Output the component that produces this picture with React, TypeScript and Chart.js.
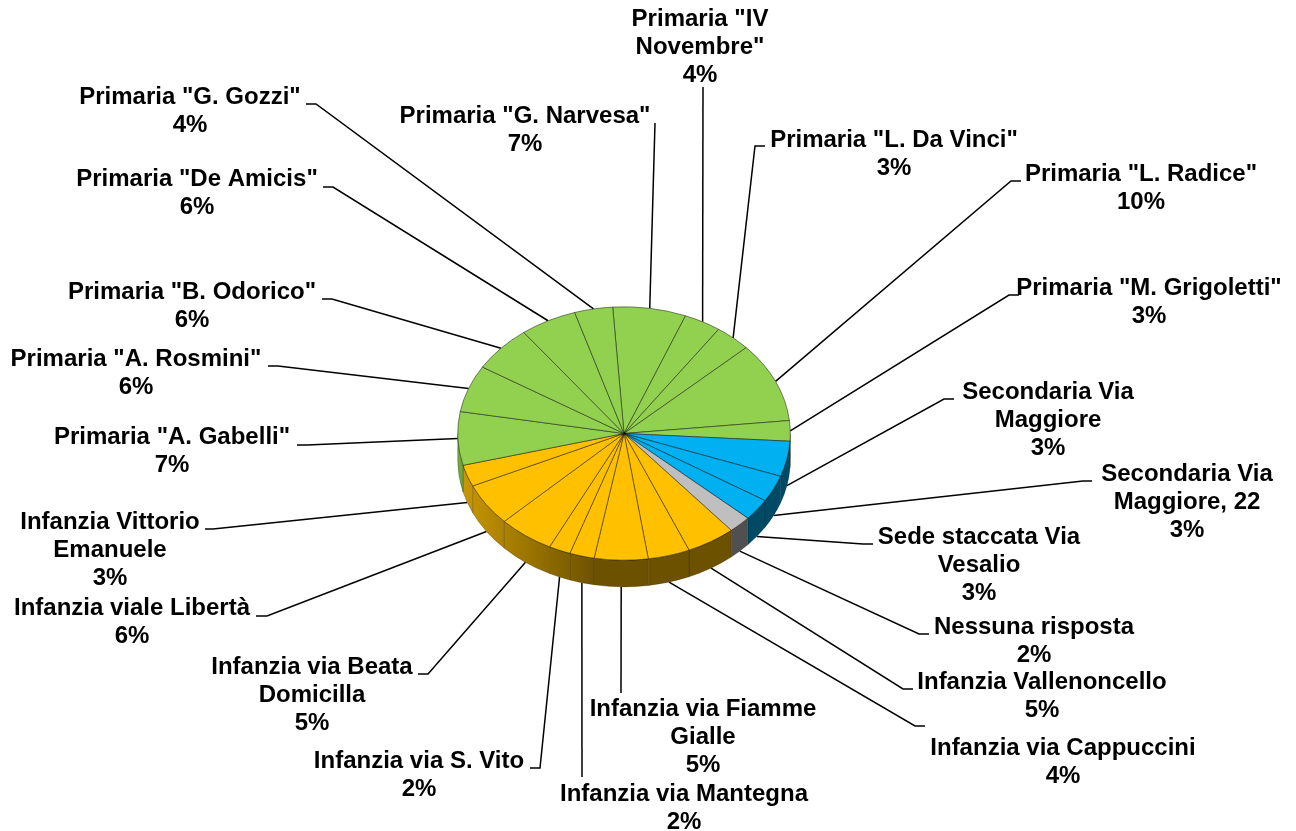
import React, { useEffect, useRef } from "react";
import { Chart, registerables } from "chart.js";

Chart.register(...registerables);

const categories = [
  'Primaria "G. Narvesa"', 'Primaria "IV Novembre"', 'Primaria "L. Da Vinci"', 'Primaria "L. Radice"',
  'Primaria "M. Grigoletti"', 'Secondaria Via Maggiore', 'Secondaria Via Maggiore, 22', 'Sede staccata Via Vesalio',
  'Nessuna risposta', 'Infanzia Vallenoncello', 'Infanzia via Cappuccini', 'Infanzia via Fiamme Gialle',
  'Infanzia via Mantegna', 'Infanzia via S. Vito', 'Infanzia via Beata Domicilla', 'Infanzia viale Libertà',
  'Infanzia Vittorio Emanuele', 'Primaria "A. Gabelli"', 'Primaria "A. Rosmini"', 'Primaria "B. Odorico"',
  'Primaria "De Amicis"', 'Primaria "G. Gozzi"',
];
const sliceShares = [7.1, 3.6, 3.5, 10.2, 2.6, 4.5, 3.4, 2.75, 2.2, 4.75, 4.05, 5.2, 2.4, 2.1, 5.4, 5.4, 2.75, 6.8, 6.0, 5.9, 5.5, 3.7];
const percentLabels = ["7%", "4%", "3%", "10%", "3%", "3%", "3%", "3%", "2%", "5%", "4%", "5%", "2%", "2%", "5%", "6%", "3%", "7%", "6%", "6%", "6%", "4%"];
const nameLines = [
  ['Primaria "G. Narvesa"'], ['Primaria "IV', 'Novembre"'], ['Primaria "L. Da Vinci"'], ['Primaria "L. Radice"'],
  ['Primaria "M. Grigoletti"'], ['Secondaria Via', 'Maggiore'], ['Secondaria Via', 'Maggiore, 22'], ['Sede staccata Via', 'Vesalio'],
  ['Nessuna risposta'], ['Infanzia Vallenoncello'], ['Infanzia via Cappuccini'], ['Infanzia via Fiamme', 'Gialle'],
  ['Infanzia via Mantegna'], ['Infanzia via S. Vito'], ['Infanzia via Beata', 'Domicilla'], ['Infanzia viale Libertà'],
  ['Infanzia Vittorio', 'Emanuele'], ['Primaria "A. Gabelli"'], ['Primaria "A. Rosmini"'], ['Primaria "B. Odorico"'],
  ['Primaria "De Amicis"'], ['Primaria "G. Gozzi"'],
];
const GREEN = "#92D050", BLUE = "#00B0F0", GREY = "#BFBFBF", ORANGE = "#FFC000";
const sliceColors = [
  GREEN, GREEN, GREEN, GREEN, GREEN, BLUE, BLUE, BLUE, GREY, ORANGE, ORANGE, ORANGE,
  ORANGE, ORANGE, ORANGE, ORANGE, ORANGE, GREEN, GREEN, GREEN, GREEN, GREEN,
];

// Layout of the annotations: label centre x / first baseline, leader knee, leader end
const labelAnchors = [
  [525, 123], [700, 26], [894, 147], [1141, 181], [1149, 295], [1048, 399], [1187, 481], [979, 544],
  [1034, 634], [1042, 689], [1063, 755], [703, 716], [684, 801], [419, 768], [312, 674], [132, 615],
  [110, 529], [172, 444], [136, 366], [192, 299], [197, 186], [190, 104],
];
const leaderKnees = [
  [655, 123], [703, 87], [755, 146], [1011, 181], [1009, 295], [944, 399], [1083, 481], [863, 544],
  [919, 634], [903, 689], [915, 726], [621, 693], [582, 777], [540, 768], [428, 674], [267, 616],
  [213, 529], [307, 445], [278, 366], [332, 299], [333, 187], [316, 104],
];
const leaderEnds = [
  null, null, [765, 146], [1021, 181], [1019, 295], [954, 399], [1092, 481], [873, 544],
  [929, 634], [913, 689], [925, 726], null, null, [530, 768], [418, 674], [256, 616],
  [205, 529], [297, 445], [268, 366], [322, 299], [323, 187], [306, 104],
];

const Y_SCALE = 0.762;
const DEPTH = 26.7;
const LINE_HEIGHT = 28;
const FONT = 'bold 24px "Liberation Sans", Arial, sans-serif';

const pie3d = {
  id: "pie3d",
  beforeDatasetsDraw(chart: any) {
    const { ctx } = chart;
    const arcs = chart.getDatasetMeta(0).data;
    const cx = arcs[0].x, cy = arcs[0].y, rx = arcs[0].outerRadius, ry = rx * Y_SCALE;

    // leader lines, anchored at the middle of each slice's rim
    ctx.save();
    ctx.strokeStyle = "#000";
    ctx.lineWidth = 1.5;
    arcs.forEach((a: any, i: number) => {
      const mid = (a.startAngle + a.endAngle) / 2;
      const sx = cx + rx * Math.cos(mid);
      const sinM = Math.sin(mid);
      const sy = cy + ry * sinM + (sinM > 0.1 ? DEPTH : 0);
      ctx.beginPath();
      ctx.moveTo(sx, sy);
      ctx.lineTo(leaderKnees[i][0], leaderKnees[i][1]);
      const e = leaderEnds[i];
      if (e) ctx.lineTo(e[0], e[1]);
      ctx.stroke();
    });
    ctx.restore();

    // side wall
    const shade = ctx.createLinearGradient(cx - rx, 0, cx + rx, 0);
    shade.addColorStop(0, "rgba(0,0,0,0.2)");
    shade.addColorStop(0.42, "rgba(0,0,0,0.58)");
    shade.addColorStop(1, "rgba(0,0,0,0.58)");
    arcs.forEach((a: any, i: number) => {
      const s = Math.max(a.startAngle, 0), e = Math.min(a.endAngle, Math.PI);
      if (e <= s) return;
      const wall = () => {
        ctx.beginPath();
        ctx.ellipse(cx, cy, rx, ry, 0, s, e);
        ctx.ellipse(cx, cy + DEPTH, rx, ry, 0, e, s, true);
        ctx.closePath();
      };
      ctx.save();
      wall();
      ctx.fillStyle = sliceColors[i];
      ctx.fill();
      ctx.fillStyle = shade;
      ctx.fill();
      ctx.strokeStyle = "rgba(0,0,0,0.3)";
      ctx.lineWidth = 0.7;
      ctx.stroke();
      ctx.restore();
    });
  },
  beforeDatasetDraw(chart: any) {
    const { ctx } = chart;
    const a = chart.getDatasetMeta(0).data[0];
    ctx.save();
    ctx.translate(a.x, a.y);
    ctx.scale(1, Y_SCALE);
    ctx.translate(-a.x, -a.y);
  },
  afterDatasetDraw(chart: any) {
    chart.ctx.restore();
  },
  afterDatasetsDraw(chart: any) {
    const { ctx } = chart;
    ctx.save();
    ctx.font = FONT;
    ctx.fillStyle = "#000";
    ctx.textAlign = "center";
    ctx.textBaseline = "alphabetic";
    nameLines.forEach((lines, i) => {
      const all = [...lines, percentLabels[i]];
      all.forEach((t, j) => ctx.fillText(t, labelAnchors[i][0], labelAnchors[i][1] + j * LINE_HEIGHT));
    });
    ctx.restore();
  },
};

export default function App() {
  const ref = useRef<HTMLCanvasElement>(null);
  useEffect(() => {
    const chart = new Chart(ref.current as HTMLCanvasElement, {
      type: "pie",
      data: {
        labels: categories,
        datasets: [{
          data: sliceShares,
          backgroundColor: sliceColors,
          borderColor: "rgba(0,0,0,0.65)",
          borderWidth: 0.8,
          clip: false,
        } as any],
      },
      options: {
        responsive: false,
        animation: false,
        rotation: -3.9,
        radius: 166.3,
        layout: { padding: { left: 0, right: 48, top: 36, bottom: 0 } },
        events: [],
        plugins: { legend: { display: false }, tooltip: { enabled: false } },
      } as any,
      plugins: [pie3d],
    });
    return () => chart.destroy();
  }, []);
  return (
    <canvas
      ref={ref}
      width={1296}
      height={831}
      style={{ position: "absolute", left: 0, top: 0, width: 1296, height: 831, display: "block" }}
    />
  );
}
